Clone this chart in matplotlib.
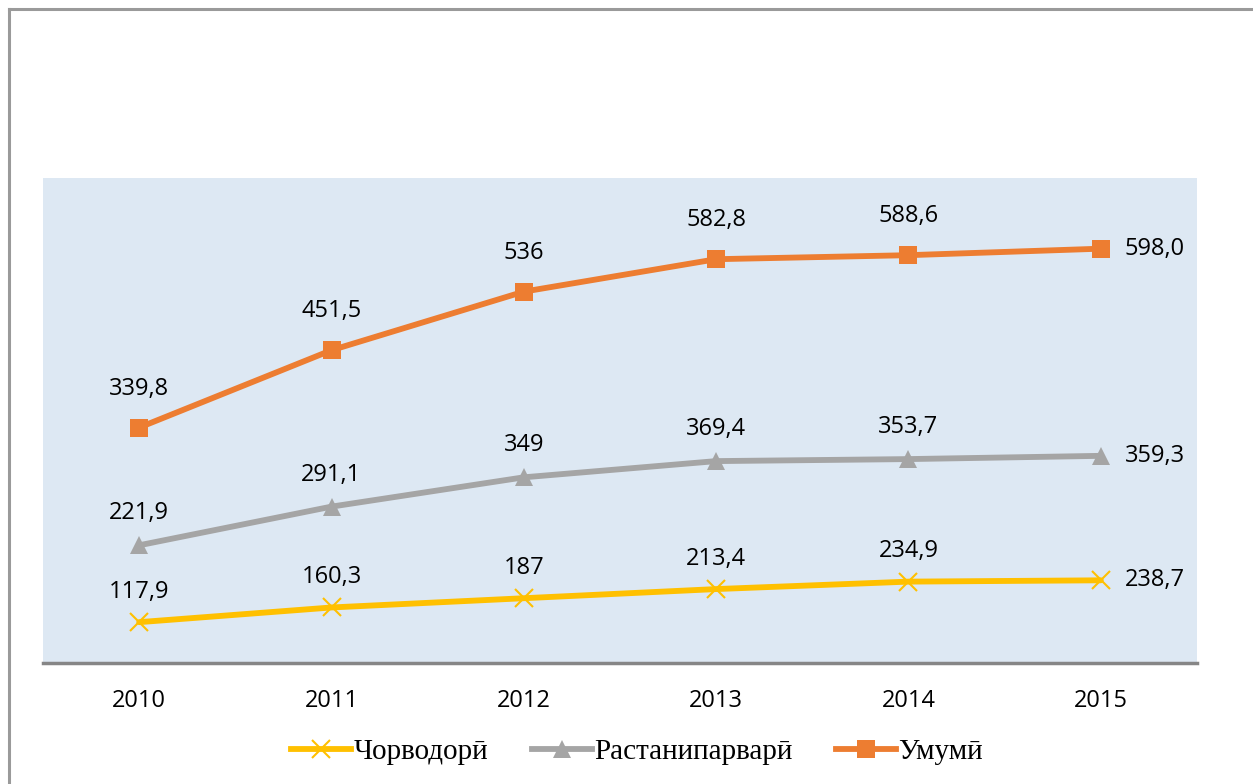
import numpy as np
import matplotlib
matplotlib.use("Agg")
import matplotlib.pyplot as plt
from matplotlib.lines import Line2D

## -----------------------------------------------
# data
## -----------------------------------------------
years = ["2010", "2011", "2012", "2013", "2014", "2015"]
series_names = ["Чорводорӣ", "Растанипарварӣ", "Умумӣ"]
livestock = [117.9, 160.3, 187, 213.4, 234.9, 238.7]
crops = [221.9, 291.1, 349, 369.4, 353.7, 359.3]
total = [339.8, 451.5, 536, 582.8, 588.6, 598.0]
livestock_labels = ["117,9", "160,3", "187", "213,4", "234,9", "238,7"]
crops_labels = ["221,9", "291,1", "349", "369,4", "353,7", "359,3"]
total_labels = ["339,8", "451,5", "536", "582,8", "588,6", "598,0"]

# stacked line chart (each series sits on top of the previous ones)
stacked = np.cumsum(np.array([livestock, crops, total]), axis=0)

colors = ["#FFC000", "#A5A5A5", "#ED7D31"]
markers = ["x", "^", "s"]
msizes = [13, 12.5, 13.5]
label_sets = [livestock_labels, crops_labels, total_labels]
offsets = [22, 23, 28]

## -----------------------------------------------
# plot
## -----------------------------------------------
fig = plt.figure(figsize=(12.53, 7.84), dpi=100)
W, H = 1253, 784
ax = fig.add_axes([43 / W, (H - 663) / H, 1154 / W, 485 / H])
ax.set_facecolor("#DDE8F3")

x = np.arange(len(years))
for i in range(3):
    ax.plot(x, stacked[i], color=colors[i], lw=4.2, marker=markers[i],
            markersize=msizes[i], markeredgewidth=1.5 if markers[i] == "x" else 0,
            solid_capstyle="round", zorder=3)
    for j in range(len(years)):
        if j == len(years) - 1:
            ax.annotate(label_sets[i][j], (x[j], stacked[i][j]), xytext=(17, 0),
                        textcoords="offset points", ha="left", va="center",
                        fontsize=17, family="Open Sans", color="#000000")
        else:
            ax.annotate(label_sets[i][j], (x[j], stacked[i][j]), xytext=(0, offsets[i]),
                        textcoords="offset points", ha="center", va="center",
                        fontsize=17, family="Open Sans", color="#000000")

ax.set_xlim(-0.5, len(years) - 0.5)
ax.set_ylim(0, 1400)
ax.set_yticks([])
ax.set_xticks(x)
ax.set_xticklabels(years, fontsize=17, family="Open Sans")
ax.tick_params(axis="x", length=0, pad=19)
for side in ["top", "right", "left"]:
    ax.spines[side].set_visible(False)
ax.spines["bottom"].set_color("#868686")
ax.spines["bottom"].set_linewidth(2.5)

# legend
handles = [Line2D([], [], color=colors[i], lw=4.2, marker=markers[i],
                  markersize=msizes[i], markeredgewidth=1.5 if markers[i] == "x" else 0)
           for i in range(3)]
fig.legend(handles, series_names, loc="center", bbox_to_anchor=(637 / W, 1 - 752 / H),
           ncol=3, frameon=False, handlelength=2.05, handletextpad=0.08, columnspacing=1.5,
           prop={"family": ["Liberation Serif", "DejaVu Serif"], "size": 21})

# outer border (only top and left visible in the reference)
fig.add_artist(Line2D([9 / W, 9 / W], [0, 1 - 9 / H], color="#9A9A9A", lw=2.2))
fig.add_artist(Line2D([9 / W, 1], [1 - 9 / H, 1 - 9 / H], color="#9A9A9A", lw=2.2))

fig.savefig("out.png", dpi=100)
